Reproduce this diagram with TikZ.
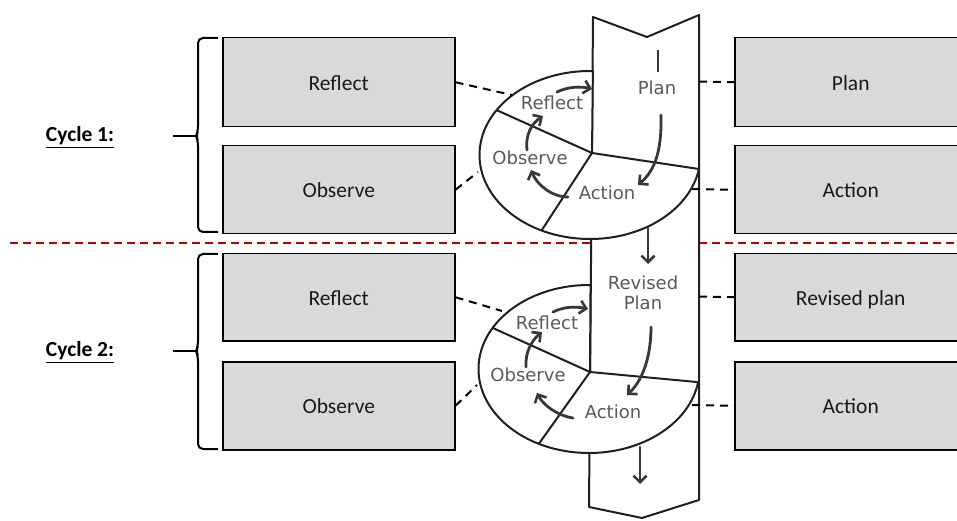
\documentclass[tikz,border=0pt]{standalone}
\usepackage{fontspec}
\setmainfont{Carlito}
\newfontfamily\dvs{DejaVu Sans}
\usetikzlibrary{arrows.meta,calc}
\definecolor{boxgray}{HTML}{D9D9D9}
\definecolor{figtextc}{HTML}{5A5A5A}
\definecolor{arrowgray}{HTML}{383838}
\definecolor{cutred}{HTML}{C00000}
\tikzset{
  box/.style={draw=black, line width=1.5bp, fill=boxgray, anchor=north west,
    minimum width=232bp, inner sep=0pt,
    font=\fontsize{21.5bp}{25bp}\selectfont, text=black!90,
    text height=16bp, text depth=0bp},
  figline/.style={draw=black!88, line width=2bp, line join=round},
  figtext/.style={font=\dvs\fontsize{18bp}{20bp}\selectfont, text=figtextc,
    align=center, inner sep=0pt},
  onelinetext/.style={figtext, text height=13bp, text depth=0bp},
  flow/.style={draw=arrowgray, line width=2.8bp, line cap=round,
    -{Straight Barb[length=6.5bp,width=13bp,line width=2.6bp]}},
  link/.style={draw=black, line width=2bp, dash pattern=on 8bp off 6bp},
  bracepath/.style={draw=black, line width=2bp, rounded corners=5bp},
  cyclabel/.style={font=\bfseries\fontsize{21.5bp}{25bp}\selectfont,
    inner sep=0pt, anchor=base},
}
\begin{document}
\begin{tikzpicture}[x=1bp,y=-1bp]
\useasboundingbox (0,0) rectangle (957,521);
\clip (0,0) rectangle (957,521);

% ---------- boxes ----------
\node[box, minimum height=89bp] (L1) at (222,37)  {Reflect};
\node[box, minimum height=88bp] (L2) at (222,145) {Observe};
\node[box, minimum height=87bp] (L3) at (222,253) {Reflect};
\node[box, minimum height=88bp] (L4) at (222,361) {Observe};
\node[box, minimum height=89bp] (R1) at (734,37)  {Plan};
\node[box, minimum height=88bp] (R2) at (734,145) {Action};
\node[box, minimum height=87bp] (R3) at (734,253) {Revised plan};
\node[box, minimum height=88bp] (R4) at (734,361) {Action};

% ---------- separator ----------
\coordinate (sepL) at (10,243);
\coordinate (sepR) at (957,243);
\draw[cutred, line width=1.6bp, dash pattern=on 8bp off 5bp] (sepL) -- (sepR);

% ---------- column ----------
\draw[figline, fill=white] (593,17) -- (647,37) -- (699,15) -- (699,500)
  -- (642,518) -- (589,507) -- cycle;

% ---------- cycle 1 pie ----------
\coordinate (E1) at (590,155);
\coordinate (P1) at (592,153);
\filldraw[figline, fill=white] (P1) -- ($(E1)+(271.5:110.5 and 84)$)
  arc[start angle=271.5, end angle=9.6, x radius=110.5, y radius=84] -- cycle;
\draw[figline] (P1) -- ($(E1)+(212.3:110.5 and 84)$);
\draw[figline] (P1) -- ($(E1)+(116:110.5 and 84)$);

% ---------- cycle 2 pie ----------
\coordinate (E2) at (589,369);
\coordinate (P2) at (590,372);
\filldraw[figline, fill=white] (P2) -- ($(E2)+(270.8:110.5 and 84)$)
  arc[start angle=270.8, end angle=9, x radius=110.5, y radius=84] -- cycle;
\draw[figline] (P2) -- ($(E2)+(209.3:110.5 and 84)$);
\draw[figline] (P2) -- ($(E2)+(117:110.5 and 84)$);

\draw[figline] (699,15) -- (699,500);

% ---------- texts in figure ----------
\node[onelinetext] (tplan)  at (657,88)  {Plan};
\node[onelinetext] (tref1)  at (552,103) {Reflect};
\node[onelinetext] (tobs1)  at (530,158) {Observe};
\node[onelinetext] (tact1)  at (607,193) {Action};
\node[figtext]     (trev)   at (643,293) {Revised\\Plan};
\node[onelinetext] (tref2)  at (547,323) {Reflect};
\node[onelinetext] (tobs2)  at (528,375) {Observe};
\node[onelinetext] (tact2)  at (613,412) {Action};

% ---------- arrows cycle 1 ----------
\draw[draw=arrowgray, line width=2.8bp] (658,50) -- (658,72);
\draw[flow] (661,115) .. controls (662,155) and (653,172) .. (638,185);
\draw[flow] (568,197) .. controls (552,197) and (537,185) .. (531,170);
\draw[flow] (527,150) .. controls (525,135) and (532,123) .. (543,116);
\draw[flow] (557,92) .. controls (567,87) and (580,86) .. (592,89);
\draw[flow] (648,228) -- (648,264);

% ---------- arrows cycle 2 ----------
\draw[flow] (651,327) .. controls (651,360) and (641,382) .. (627,395);
\draw[flow] (573,418) .. controls (558,416) and (543,405) .. (537,393);
\draw[flow] (526,367) .. controls (525,352) and (532,340) .. (542,332);
\draw[flow] (553,312) .. controls (563,307) and (575,306) .. (588,309);
\draw[flow] (640,447) -- (640,484);

% ---------- dashed links ----------
\coordinate (a1) at (512,95);
\coordinate (a2) at (478,172);
\coordinate (a3) at (699,81.5);
\coordinate (a4) at (692,189);
\coordinate (b1) at (502,311);
\coordinate (b2) at (477,385);
\coordinate (b3) at (699,296.5);
\coordinate (b4) at (692,405);
\draw[link] (L1.east) -- (a1);
\draw[link] (L2.east) -- (a2);
\draw[link] (a3) -- (R1.west);
\draw[link] (a4) -- (R2.west);
\draw[link] (L3.east) -- (b1);
\draw[link] (L4.east) -- (b2);
\draw[link] (b3) -- (R3.west);
\draw[link] (b4) -- (R4.west);

% ---------- braces ----------
\draw[bracepath] (218,38) -- (198,38) -- (198,131) -- (196,136) -- (198,141) -- (198,232) -- (218,232);
\coordinate (k1) at (196,136);
\coordinate (k1t) at (173,136);
\draw[line width=2bp] (k1t) -- (k1);
\draw[bracepath] (218,254) -- (198,254) -- (198,346) -- (196,351) -- (198,356) -- (198,449) -- (218,449);
\coordinate (k2) at (196,351);
\coordinate (k2t) at (173,351);
\draw[line width=2bp] (k2t) -- (k2);

% ---------- cycle labels ----------
\node[cyclabel] (cy1) at (80,142) {Cycle 1:};
\draw[line width=1.6bp] ([yshift=-5.5bp]cy1.base west) -- ([yshift=-5.5bp]cy1.base east);
\node[cyclabel] (cy2) at (80,357) {Cycle 2:};
\draw[line width=1.6bp] ([yshift=-5.5bp]cy2.base west) -- ([yshift=-5.5bp]cy2.base east);
\end{tikzpicture}
\end{document}
